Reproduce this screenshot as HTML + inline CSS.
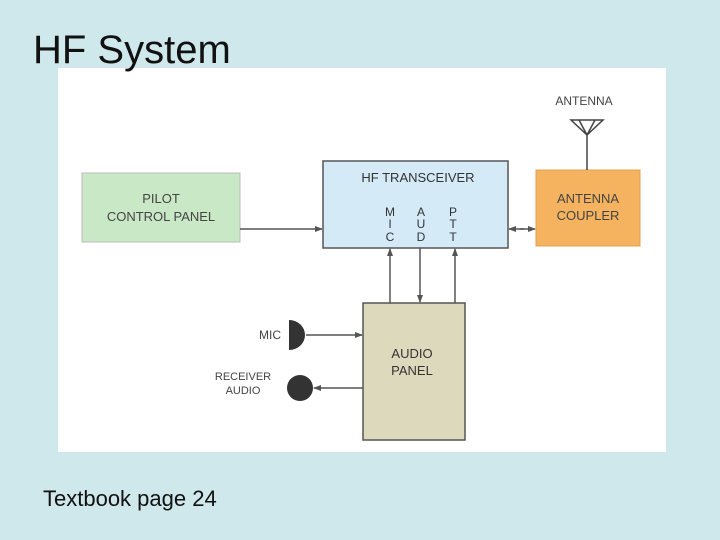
<!DOCTYPE html>
<html><head><style>
body{margin:0;width:720px;height:540px;background:#cfe8ec;position:relative;overflow:hidden;font-family:"Liberation Sans",sans-serif}
.t{position:absolute;left:33px;top:28px;font-size:40px;color:#111}
.f{position:absolute;left:43px;top:486px;font-size:22px;color:#111}
svg{position:absolute;left:0;top:0}
</style></head><body>
<svg width="720" height="540" font-family="Liberation Sans, sans-serif">
<defs><marker id="a" markerWidth="8" markerHeight="8" refX="7" refY="4" orient="auto" markerUnits="userSpaceOnUse"><path d="M0,1 L8,4 L0,7z" fill="#555"/></marker></defs>
<rect x="58" y="68" width="608" height="384" fill="#fff"/>
<rect x="82" y="173" width="158" height="69" fill="#c9e8c6" stroke="#bbb"/>
<text x="161" y="203" font-size="13" text-anchor="middle" fill="#444">PILOT</text>
<text x="161" y="221" font-size="13" text-anchor="middle" fill="#444">CONTROL PANEL</text>
<rect x="323" y="161" width="185" height="87" fill="#d4eaf6" stroke="#555" stroke-width="1.5"/>
<text x="418" y="182" font-size="13" text-anchor="middle" fill="#333">HF TRANSCEIVER</text>
<g font-size="12" fill="#333" text-anchor="middle">
<text x="390" y="216">M</text><text x="390" y="228">I</text><text x="390" y="241">C</text>
<text x="421" y="216">A</text><text x="421" y="228">U</text><text x="421" y="241">D</text>
<text x="453" y="216">P</text><text x="453" y="228">T</text><text x="453" y="241">T</text>
</g>
<rect x="536" y="170" width="104" height="76" fill="#f5b35f" stroke="#e0a050"/>
<text x="588" y="203" font-size="13" text-anchor="middle" fill="#444">ANTENNA</text>
<text x="588" y="220" font-size="13" text-anchor="middle" fill="#444">COUPLER</text>
<text x="584" y="105" font-size="12" text-anchor="middle" fill="#444">ANTENNA</text>
<path d="M571,120 L603,120 L587,135 Z M579,120 L587,135 L595,120" fill="none" stroke="#444" stroke-width="1.5"/>
<line x1="587" y1="135" x2="587" y2="170" stroke="#444" stroke-width="1.5"/>
<rect x="363" y="303" width="102" height="137" fill="#ddd9bd" stroke="#555" stroke-width="1.5"/>
<text x="412" y="358" font-size="13" text-anchor="middle" fill="#333">AUDIO</text>
<text x="412" y="375" font-size="13" text-anchor="middle" fill="#333">PANEL</text>
<g stroke="#555" stroke-width="1.5" fill="none">
<line x1="240" y1="229" x2="322" y2="229" marker-end="url(#a)"/>
<line x1="520" y1="229" x2="535" y2="229" marker-end="url(#a)"/>
<line x1="524" y1="229" x2="509" y2="229" marker-end="url(#a)"/>
<line x1="390" y1="303" x2="390" y2="249" marker-end="url(#a)"/>
<line x1="420" y1="248" x2="420" y2="302" marker-end="url(#a)"/>
<line x1="455" y1="303" x2="455" y2="249" marker-end="url(#a)"/>
<line x1="306" y1="335" x2="362" y2="335" marker-end="url(#a)"/>
<line x1="363" y1="388" x2="314" y2="388" marker-end="url(#a)"/>
</g>
<path d="M289,320 A16,15 0 0 1 289,350 Z" fill="#333"/>
<circle cx="300" cy="388" r="13" fill="#333"/>
<text x="270" y="339" font-size="12" text-anchor="middle" fill="#444">MIC</text>
<text x="243" y="380" font-size="11" text-anchor="middle" fill="#444">RECEIVER</text>
<text x="243" y="394" font-size="11" text-anchor="middle" fill="#444">AUDIO</text>
</svg>
<div class="t">HF System</div>
<div class="f">Textbook page 24</div>
</body></html>
